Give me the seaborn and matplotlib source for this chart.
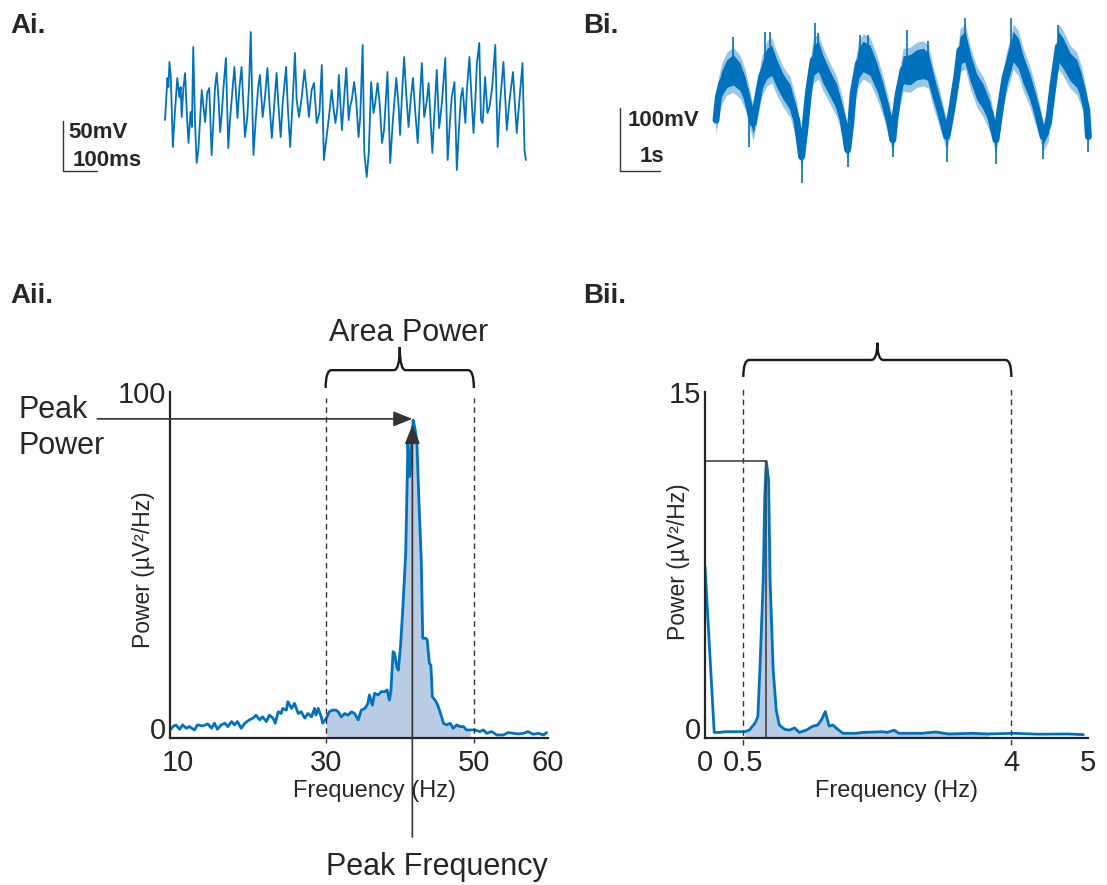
import numpy as np
import matplotlib
matplotlib.use('Agg')
import matplotlib.pyplot as plt
import seaborn as sns
from matplotlib.path import Path
from matplotlib.patches import PathPatch

# Ai - gamma trace (time in ms, voltage in mV)
ai_t = [0, 7, 10, 13, 17, 23, 29, 36, 42, 46, 49, 54, 59, 64, 69, 75, 79, 83, 88, 93,
        98, 103, 108, 113, 118, 124, 130, 137, 142, 147, 152, 157, 162, 167, 172, 179, 186, 191, 199, 204,
        213, 219, 225, 230, 235, 242, 247, 252, 260, 268, 274, 279, 287, 294, 301, 307, 314, 320, 328, 333,
        340, 346, 356, 361, 368, 375, 382, 387, 394, 402, 410, 417, 423, 431, 438, 446, 454, 461, 467, 475,
        482, 490, 495, 501, 507, 511,
        520, 533, 540, 544, 549, 556, 562, 569, 574, 581, 586, 593, 599, 606, 613, 618, 625, 631, 638, 644,
        654, 662, 670, 680, 687, 691, 698, 703, 709, 716, 723, 729, 736, 743, 748, 755, 762, 770, 775, 782,
        786, 791, 799, 806, 814, 824, 831, 838, 843, 851, 858, 864, 870, 875, 883, 887, 895, 902, 907, 912,
        917, 924, 929, 934, 941, 948, 954, 962, 971, 978, 985, 995, 1005, 1013, 1023, 1030, 1034, 1042, 1051, 1057,
        1061]
ai_v = [0, 42, 33, 58, 43, -27, 7, 42, 23, 33, 3, 32, 47, 7, -23, 8, -7, 73, 0, -43,
        -30, 0, 30, 13, -2, 27, 32, -35, -3, 33, 47, 23, -12, 7, 33, 62, -28, 0, 33, 53,
        2, 33, 53, 17, -17, 3, 35, 88, -35, 7, 33, 45, 3, 23, 52, 17, -18, 10, 47, 17,
        -17, 17, 53, 13, -27, 17, 67, 20, 3, 23, 50, 27, 3, 30, 37, -3, 7, 55, -40, -17,
        3, 30, 13, -3, 13, 45,
        -10, 52, 0, 13, 20, 38, 20, -17, 3, 75, -33, -57, -33, 38, 7, 17, 37, 17, -23, -10,
        48, -43, 0, 42, 13, -15, 33, 63, 27, -7, 23, 42, 7, -23, 13, 57, 3, 20, 37, -7,
        -33, 0, 50, -8, 17, 62, -40, 0, 23, 38, -50, -10, 23, 32, -3, 27, 63, 17, -13, 17,
        57, 77, 0, -3, 43, 7, 13, 33, 75, -27, 17, 58, -10, 20, 48, 10, -13, 20, 57, -30,
        -40]

# Bi - slow oscillation (time in s, voltage in mV), noise band half-width and spikes
bi_t = [0.2, 0.26, 0.34, 0.47, 0.63, 0.8, 0.93, 1.05, 1.13, 1.22,
        1.34, 1.47, 1.59, 1.72, 1.88, 2.05, 2.22, 2.34, 2.43, 2.51,
        2.63, 2.76, 2.88, 3.05, 3.22, 3.38, 3.49, 3.57, 3.63, 3.76,
        3.88, 4.05, 4.22, 4.38, 4.55, 4.62, 4.68, 4.76, 4.88, 5.05,
        5.22, 5.38, 5.51, 5.63, 5.8, 5.97, 6.09, 6.22, 6.3, 6.43,
        6.55, 6.72, 6.88, 7.05, 7.2, 7.3, 7.43, 7.55, 7.63, 7.76,
        7.88, 8.05, 8.22, 8.38, 8.51, 8.63, 8.76, 8.88, 9.05, 9.22,
        9.34, 9.47, 9.51]
bi_v = [-32, 5, 26, 42, 48, 37, 16, -16, -37, -5,
        37, 58, 63, 42, 21, 5, -32, -90, -42, 11,
        63, 69, 48, 26, 5, -32, -79, -37, 11, 58,
        69, 63, 37, 5, -37, -63, -26, 11, 48, 48,
        56, 58, 53, 21, -16, -58, -16, 37, 79, 85,
        53, 21, 5, -21, -63, -16, 37, 63, 85, 74,
        48, 21, -16, -58, -37, 26, 85, 74, 53, 42,
        21, -16, -58]
bi_spread = [14, 18, 20, 22, 24, 22, 20, 18, 16, 18,
             20, 24, 24, 22, 20, 20, 18, 10, 16, 18,
             24, 24, 22, 20, 20, 18, 10, 16, 18, 24,
             24, 24, 22, 20, 18, 12, 16, 18, 22, 24,
             24, 24, 22, 20, 18, 12, 16, 20, 22, 24,
             22, 20, 20, 18, 12, 16, 20, 22, 24, 24,
             22, 20, 18, 12, 16, 18, 24, 24, 22, 22,
             20, 16, 10]
bi_spike_t = [0.63, 1.03, 1.43, 1.55, 2.34, 2.68, 2.76, 3.49, 3.8, 4.01,
              4.62, 4.97, 5.51, 5.97, 6.43, 7.2, 7.57, 8.38, 8.76, 9.51]
bi_spike_v = [100, -74, 108, 108, -132, 122, 106, -106, 103, 103,
              -90, 111, 93, -98, 130, -101, 130, -93, 119, -82]

# Aii - gamma power spectrum
aii_f = [9.0, 9.4, 9.8, 10.3, 10.7, 11.2, 11.6, 12.3, 12.7, 13.4, 14.1, 14.6, 15.0, 15.4, 15.9,
         16.4, 16.8, 17.3, 17.7, 18.1, 18.6, 19.1, 19.7, 20.2, 20.6, 21.1, 21.5, 22.0, 22.4, 22.9,
         23.2, 23.6, 24.0, 24.2, 24.7, 24.9, 25.4, 25.8, 26.3, 26.7, 27.2, 27.6, 28.1, 28.5, 28.7,
         29.0, 29.4, 29.6, 30.1, 30.5, 30.9, 31.4, 31.7, 32.1, 32.6, 33.0, 33.5, 33.9, 34.4, 34.8,
         35.3, 35.7, 35.9, 36.3, 36.6, 37.1, 37.5, 38.0, 38.3, 38.6, 38.8, 39.1, 39.3, 39.6, 39.8,
         40.1, 40.4, 40.8, 41.0, 41.1, 41.3, 41.4, 41.6, 41.8, 42.0, 42.3, 42.6, 42.9, 43.1, 43.5,
         43.7, 44.0, 44.2, 44.4, 44.9, 45.2, 45.5, 45.9, 46.3, 46.8, 47.2, 47.7, 48.1, 48.6, 49.0,
         49.5, 50.1, 50.8, 51.3, 51.7, 52.4, 53.1, 54.0, 54.6, 55.3, 56.0, 56.7, 57.3, 58.0, 58.7,
         59.4, 59.8]
aii_p = [-0.6, 0.4, 0.9, -0.4, 0.9, -0.1, 0.4, -0.6, 0.9, 0.6, 1.2, -0.1, 1.4, -0.4, 0.9,
         1.4, 0.4, 1.9, 0.9, 1.9, -0.1, 1.4, 2.4, 2.9, 3.8, 2.4, 3.3, 1.9, 3.8, 2.9,
         1.4, 4.8, 4.3, 5.8, 5.3, 7.8, 5.8, 7.3, 4.3, 4.8, 2.9, 4.3, 3.3, 5.8, 3.8,
         5.8, 3.3, 1.4, 2.9, 4.8, 5.3, 5.3, 4.8, 3.3, 4.3, 3.8, 4.8, 4.3, 2.4, 5.3,
         5.8, 7.3, 9.8, 6.8, 10.3, 9.8, 10.8, 10.8, 11.3, 8.3, 10.8, 22.7, 22.2, 18.2, 17.2,
         24.2, 35.1, 52.0, 73.8, 84.7, 74.8, 75.8, 84.7, 91.6, 89.7, 85.7, 66.8, 50.0, 26.7, 26.7,
         26.2, 19.2, 18.7, 9.3, 7.8, 6.3, 4.3, 1.4, 0.9, 1.4, -0.1, 0.9, 0.4, 0.4, -0.6,
         -0.6, -0.6, -1.1, -0.6, -1.6, -1.1, -2.1, -2.1, -1.4, -1.6, -1.8, -1.6, -1.1, -1.9, -1.6,
         -2.1, -1.4]

# Bii - slow-wave power spectrum
bii_f = [0.0, 0.12, 0.19, 0.26, 0.52, 0.58, 0.65, 0.69, 0.72, 0.76, 0.78, 0.8, 0.83, 0.85, 0.89,
         0.93, 0.97, 1.04, 1.1, 1.17, 1.23, 1.32, 1.41, 1.47, 1.52, 1.57, 1.62, 1.67, 1.71, 1.8,
         1.97, 2.06, 2.32, 2.38, 2.47, 2.53, 2.84, 3.01, 3.18, 3.49, 3.7, 4.03, 4.35, 4.74, 4.94]
bii_p = [7.2, -0.2, -0.2, -0.17, -0.17, -0.09, 0.2, 0.5, 2.9, 6.6, 10.3, 11.9, 11.1, 6.6, 2.6,
         0.8, 0.13, -0.06, -0.1, 0.0, -0.2, -0.1, 0.08, 0.13, 0.36, 0.73, 0.08, 0.13, 0.0, -0.24,
         -0.24, -0.2, -0.17, -0.2, -0.1, -0.24, -0.24, -0.18, -0.27, -0.24, -0.27, -0.24, -0.28, -0.27, -0.3]

aii_xticks = [10, 30, 50, 60]
aii_yticks = [0, 100]
bii_xticks = [0, 0.5, 4, 5]
bii_xticklabels = ['0', '0.5', '4', '5']
bii_yticks = [0, 15]
aii_band = (30, 50)
bii_band = (0.5, 4)
aii_peak = (41.7, 91.6)
bii_peak = (0.8, 11.9)

W, H = 1107, 885
BLUE = '#0072BD'
FILL = '#B8CCE4'
INK = '#262626'

sns.set_theme(style='white')
plt.rcParams['font.family'] = ['Liberation Sans', 'DejaVu Sans']

fig = plt.figure(figsize=(W / 100, H / 100), dpi=100)


def box(l, t, r, b):
    # pixel box -> figure fraction
    return [l / W, 1 - b / H, (r - l) / W, (b - t) / H]


def ftext(x, y, s, **kw):
    fig.text(x / W, 1 - y / H, s, color=INK, **kw)


def brace(ax, x0, x1, yend, yh, ytip, rx):
    xc = (x0 + x1) / 2
    verts = [(x0, yend), (x0, yh), (x0 + rx, yh), (xc - rx, yh), (xc, yh), (xc, ytip),
             (xc, yh), (xc + rx, yh), (x1 - rx, yh), (x1, yh), (x1, yend)]
    codes = [Path.MOVETO, Path.CURVE3, Path.CURVE3, Path.LINETO, Path.CURVE3, Path.CURVE3,
             Path.CURVE3, Path.CURVE3, Path.LINETO, Path.CURVE3, Path.CURVE3]
    ax.add_patch(PathPatch(Path(verts, codes), fill=False, lw=1.7, color='#1a1a1a',
                           transform=ax.transData, clip_on=False))


def spectrum_axes(ax):
    sns.despine(ax=ax)
    for s in ['left', 'bottom']:
        ax.spines[s].set_color(INK)
        ax.spines[s].set_linewidth(1.6)
    ax.tick_params(axis='x', length=0, labelsize=21, pad=8, colors=INK)
    ax.tick_params(axis='y', length=0, labelsize=21, pad=3, colors=INK)
    ax.grid(False)


# ---------- Ai ----------
ax = fig.add_axes(box(40, 20, 540, 190))
sns.lineplot(x=ai_t, y=ai_v, ax=ax, color=BLUE, lw=1.3, sort=False, estimator=None)
ax.set_xlim(-367.6, 1102.5)
ax.set_ylim(-70, 100)
ax.axis('off')
ax.plot([-300, -300, -200], [-1, -51, -51], color='#333333', lw=1.0, clip_on=False)
ax.text(-285, -12, '50mV', fontsize=16, fontweight='bold', color=INK, va='center', ha='left')
ax.text(-273, -40, '100ms', fontsize=16, fontweight='bold', color=INK, va='center', ha='left')

# ---------- Bi ----------
ax = fig.add_axes(box(600, 5, 1100, 195))
v = np.array(bi_v)
s = np.array(bi_spread)
ax.fill_between(bi_t, v - s - 12, v + s + 12, color=BLUE, alpha=0.4, lw=0)
ax.fill_between(bi_t, v - s, v + s, color=BLUE, lw=0)
sns.lineplot(x=bi_t, y=bi_v, ax=ax, color=BLUE, lw=5, sort=False, estimator=None)
base = np.interp(bi_spike_t, bi_t, bi_v)
ax.vlines(bi_spike_t, base, bi_spike_v, color=BLUE, lw=1.2)
ax.set_xlim(-2.7, 9.8)
ax.set_ylim(-150.8, 150.8)
ax.axis('off')
ax.plot([-2.2, -2.2, -1.2], [-12.7, -112.7, -112.7], color='#333333', lw=1.0, clip_on=False)
ax.text(-2.0, -33, '100mV', fontsize=16, fontweight='bold', color=INK, va='center', ha='left')
ax.text(-1.7, -90, '1s', fontsize=16, fontweight='bold', color=INK, va='center', ha='left')

# ---------- Aii ----------
ax = fig.add_axes(box(170, 392, 548, 738))
f = np.array(aii_f)
p = np.array(aii_p)
m = (f >= aii_band[0]) & (f <= aii_band[1])
ax.fill_between(f[m], p[m], -3, color=FILL, lw=0)
sns.lineplot(x=aii_f, y=aii_p, ax=ax, color=BLUE, lw=2.0, sort=False, estimator=None)
ax.set_xlim(9, 60)
ax.set_ylim(-3, 100)
ax.set_xticks(aii_xticks)
ax.set_yticks(aii_yticks)
spectrum_axes(ax)
ax.set_xlabel('Frequency (Hz)', fontsize=17, color=INK)
ax.xaxis.set_label_coords(0.54, -0.12)
ax.set_ylabel('Power (µV²/Hz)', fontsize=16.5, color=INK)
ax.yaxis.set_label_coords(-0.04, 0.486)
for xb in aii_band:
    ax.plot([xb, xb], [-4.5, 98.2], ls=(0, (4, 3)), color='#333333', lw=1.0, clip_on=False)
brace(ax, aii_band[0], aii_band[1], 101.2, 106.5, 113.4, 0.8)
arrow = dict(arrowstyle='-|>,head_length=0.4,head_width=0.16', color='#333333', lw=1.2,
             mutation_scale=29, shrinkA=0, shrinkB=0)
ax.annotate('', xy=(aii_peak[0], 92.0), xytext=(-0.8, 92.0), arrowprops=arrow,
            annotation_clip=False)
ax.annotate('', xy=(aii_peak[0], 90.2), xytext=(aii_peak[0], -32.5), arrowprops=arrow,
            annotation_clip=False)

# ---------- Bii ----------
ax = fig.add_axes(box(705, 392, 1088, 738))
f = np.array(bii_f)
p = np.array(bii_p)
m = (f >= bii_band[0]) & (f <= bii_band[1])
ax.fill_between(f[m], p[m], -0.45, color=FILL, lw=0)
sns.lineplot(x=bii_f, y=bii_p, ax=ax, color=BLUE, lw=2.0, sort=False, estimator=None)
ax.set_xlim(0, 5)
ax.set_ylim(-0.45, 15)
ax.set_xticks(bii_xticks)
ax.set_xticklabels(bii_xticklabels)
ax.set_yticks(bii_yticks)
spectrum_axes(ax)
ax.set_xlabel('Frequency (Hz)', fontsize=17, color=INK)
ax.xaxis.set_label_coords(0.5, -0.12)
ax.set_ylabel('Power (µV²/Hz)', fontsize=16.5, color=INK)
ax.yaxis.set_label_coords(-0.04, 0.51)
for xb in bii_band:
    ax.plot([xb, xb], [-0.76, 15.13], ls=(0, (4, 3)), color='#333333', lw=1.0, clip_on=False)
brace(ax, bii_band[0], bii_band[1], 15.67, 16.43, 17.2, 0.08)
ax.plot([0, bii_peak[0], bii_peak[0]], [bii_peak[1], bii_peak[1], -0.45],
        color='#444444', lw=1.2)

# ---------- annotations ----------
for x, y, s in [(10, 26, 'Ai.'), (583, 26, 'Bi.'), (10, 296, 'Aii.'), (583, 296, 'Bii.')]:
    ftext(x, y, s, fontsize=20, fontweight='bold', ha='left', va='center')
ftext(409, 333, 'Area Power', fontsize=22, ha='center', va='center')
ftext(18, 410, 'Peak', fontsize=22, ha='left', va='center')
ftext(18, 446, 'Power', fontsize=22, ha='left', va='center')
ftext(437, 867, 'Peak Frequency', fontsize=22, ha='center', va='center')

fig.savefig('out.png', dpi=100)
